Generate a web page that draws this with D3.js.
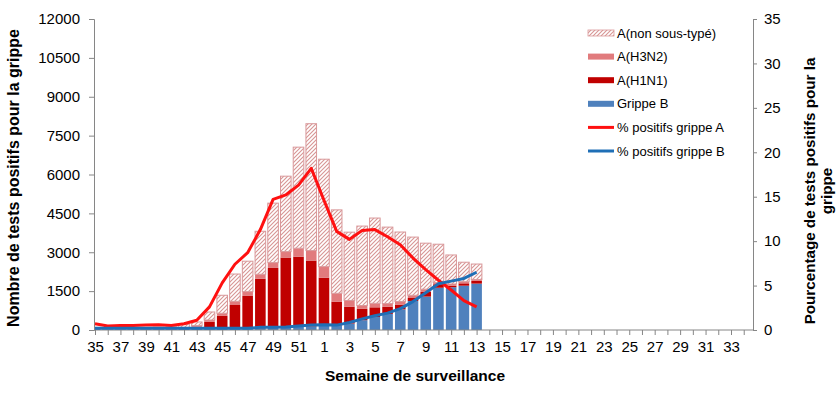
<!DOCTYPE html>
<html>
<head>
<meta charset="utf-8">
<script src="https://cdn.jsdelivr.net/npm/d3@7"></script>
<style>
  body { margin: 0; background: #fff; }
  svg { font-family: "Liberation Sans", Arial, sans-serif; }
</style>
</head>
<body>
<svg id="chart" width="838" height="393"></svg>
<script>
// weeks 35..52 then 1..34
var weeks = d3.range(35, 53).concat(d3.range(1, 35)).map(String);

// values for weeks 35..13 (31 weeks with data)
var grippeB = [30, 25, 25, 25, 25, 25, 25, 30, 30, 30, 35, 40, 50, 70, 90, 100, 120, 140,
    160, 180, 250, 380, 500, 620, 800, 1120, 1290, 1630, 1650, 1710, 1790];
var h1n1 = [10, 5, 5, 5, 5, 10, 10, 20, 100, 290, 520, 925, 1265, 1910, 2305, 2695, 2710, 2540,
    1860, 915, 650, 435, 375, 280, 180, 115, 180, 135, 60, 90, 105];
var h3n2 = [5, 5, 5, 5, 10, 10, 10, 20, 40, 65, 90, 140, 165, 170, 205, 230, 325, 385,
    425, 320, 240, 130, 155, 120, 120, 105, 105, 65, 65, 65, 50];
var nonSousType = [55, 25, 35, 40, 45, 65, 75, 160, 140, 310, 695, 1055, 1175, 1660, 2295, 2910, 3900, 4895,
    4145, 3220, 2635, 3065, 3290, 2950, 2680, 2245, 1775, 1480, 1120, 750, 600];
var pctA = [0.7, 0.45, 0.5, 0.5, 0.55, 0.6, 0.5, 0.7, 1.1, 2.6, 5.3, 7.4, 8.7, 11.3, 14.7, 15.2, 16.3, 18.2,
    14.6, 11.1, 10.2, 11.2, 11.3, 10.5, 9.6, 8.1, 6.8, 5.6, 4.5, 3.3, 2.6];
var pctB = [0.2, 0.2, 0.2, 0.2, 0.2, 0.2, 0.2, 0.2, 0.2, 0.2, 0.2, 0.2, 0.2, 0.3, 0.3, 0.35, 0.45, 0.55,
    0.6, 0.55, 0.85, 1.25, 1.6, 1.9, 2.4, 3.2, 4.2, 5.2, 5.5, 5.8, 6.5];

var leftTicks = [0, 1500, 3000, 4500, 6000, 7500, 9000, 10500, 12000];
var rightTicks = [0, 5, 10, 15, 20, 25, 30, 35];

var legendItems = [
    {label: "A(non sous-typé)", type: "hatch"},
    {label: "A(H3N2)", type: "rect", color: "#e17b7d"},
    {label: "A(H1N1)", type: "rect", color: "#c00000"},
    {label: "Grippe B", type: "rect", color: "#4f81bd"},
    {label: "% positifs grippe A", type: "line", color: "#ff1010"},
    {label: "% positifs grippe B", type: "line", color: "#1f6fb6"}
];

var svg = d3.select("#chart");
var plot = {left: 94, right: 753, top: 19, bottom: 330};
var axisColor = "#868686";

var x = d3.scalePoint().domain(weeks).range([95, 95 + 51 * 12.72]);
var y = d3.scaleLinear().domain([0, 12000]).range([plot.bottom, plot.top]);
var y2 = d3.scaleLinear().domain([0, 35]).range([plot.bottom, plot.top]);
var barW = 10.6;

// hatch pattern for the non sub-typed bars
var defs = svg.append("defs");
var pat = defs.append("pattern")
    .attr("id", "hatch")
    .attr("patternUnits", "userSpaceOnUse")
    .attr("width", 4).attr("height", 4);
pat.append("rect").attr("width", 4).attr("height", 4).attr("fill", "#fff");
pat.append("path")
    .attr("d", "M-1,1 l2,-2 M0,4 l4,-4 M3,5 l2,-2")
    .attr("stroke", "#d79594").attr("stroke-width", 1.1);

defs.append("clipPath").attr("id", "plotClip")
    .append("rect")
    .attr("x", plot.left).attr("y", 0)
    .attr("width", plot.right - plot.left).attr("height", plot.bottom + 2);

// stacked data
var rows = grippeB.map(function (b, i) {
    return {week: weeks[i], b: b, h1n1: h1n1[i], h3n2: h3n2[i], non: nonSousType[i]};
});
var stack = d3.stack().keys(["b", "h1n1", "h3n2", "non"]);
var series = stack(rows);
var fills = {b: "#4f81bd", h1n1: "#c00000", h3n2: "#e17b7d", non: "url(#hatch)"};

var barsG = svg.append("g").attr("clip-path", "url(#plotClip)");
series.forEach(function (s) {
    barsG.append("g").selectAll("rect")
        .data(s)
        .join("rect")
        .attr("x", function (d) { return x(d.data.week) - barW / 2; })
        .attr("y", function (d) { return y(d[1]); })
        .attr("width", barW)
        .attr("height", function (d) { return y(d[0]) - y(d[1]); })
        .attr("fill", fills[s.key])
        .attr("stroke", s.key === "non" ? "#d9989a" : "none")
        .attr("stroke-width", s.key === "non" ? 1 : 0);
});

// axes
var leftAxis = d3.axisLeft(y).tickValues(leftTicks).tickFormat(d3.format("d")).tickSize(5).tickPadding(9);
var gl = svg.append("g").attr("transform", "translate(" + plot.left + ",0)").call(leftAxis);
var rightAxis = d3.axisRight(y2).tickValues(rightTicks).tickSize(4).tickPadding(7);
var gr = svg.append("g").attr("transform", "translate(" + plot.right + ",0)").call(rightAxis);
var bottomAxis = d3.axisBottom(x)
    .tickSize(5).tickPadding(6)
    .tickFormat(function (d, i) { return i % 2 === 0 ? d : ""; });
var gb = svg.append("g").attr("transform", "translate(0," + plot.bottom + ")").call(bottomAxis);
gb.select(".domain").attr("d", "M" + plot.left + ",0H" + plot.right);

[gl, gr, gb].forEach(function (g) {
    g.select(".domain").attr("stroke", axisColor);
    g.selectAll(".tick line").attr("stroke", axisColor);
    g.selectAll(".tick text")
        .attr("fill", "#000")
        .style("font-size", "15px")
        .style("font-family", "Liberation Sans, Arial, sans-serif");
});

// percentage lines
var lineA = d3.line()
    .x(function (d, i) { return x(weeks[i]); })
    .y(function (d) { return y2(d); });
svg.append("path").datum(pctA)
    .attr("d", lineA).attr("fill", "none")
    .attr("stroke", "#ff1010").attr("stroke-width", 3).attr("stroke-linejoin", "round");
svg.append("path").datum(pctB)
    .attr("d", lineA).attr("fill", "none")
    .attr("stroke", "#1f6fb6").attr("stroke-width", 3).attr("stroke-linejoin", "round");

// axis titles
svg.append("text")
    .attr("transform", "translate(19,178) rotate(-90)")
    .attr("text-anchor", "middle")
    .style("font-size", "16px").style("font-weight", "bold")
    .text("Nombre de tests positifs pour la grippe");

var rt = svg.append("text")
    .attr("transform", "translate(815,191) rotate(-90)")
    .attr("text-anchor", "middle")
    .style("font-size", "15.2px").style("font-weight", "bold");
rt.append("tspan").attr("x", 0).attr("dy", 0).text("Pourcentage de tests positifs pour la");
rt.append("tspan").attr("x", 0).attr("dy", 17).text("grippe");

svg.append("text")
    .attr("x", 415).attr("y", 381)
    .attr("text-anchor", "middle")
    .style("font-size", "15.5px").style("font-weight", "bold")
    .text("Semaine de surveillance");

// legend
var lg = svg.append("g").attr("transform", "translate(588,33)");
legendItems.forEach(function (item, i) {
    var g = lg.append("g").attr("transform", "translate(0," + (i * 23.6) + ")");
    if (item.type === "hatch") {
        g.append("rect").attr("x", 0).attr("y", -3).attr("width", 26).attr("height", 6)
            .attr("fill", "url(#hatch)").attr("stroke", "#d9989a").attr("stroke-width", 0.8);
    } else if (item.type === "rect") {
        g.append("rect").attr("x", 0).attr("y", -3).attr("width", 26).attr("height", 6)
            .attr("fill", item.color);
    } else {
        g.append("line").attr("x1", 0).attr("x2", 26).attr("y1", 0).attr("y2", 0)
            .attr("stroke", item.color).attr("stroke-width", 3);
    }
    g.append("text").attr("x", 29).attr("y", 4.5)
        .style("font-size", "13px")
        .text(item.label);
});
</script>
</body>
</html>
